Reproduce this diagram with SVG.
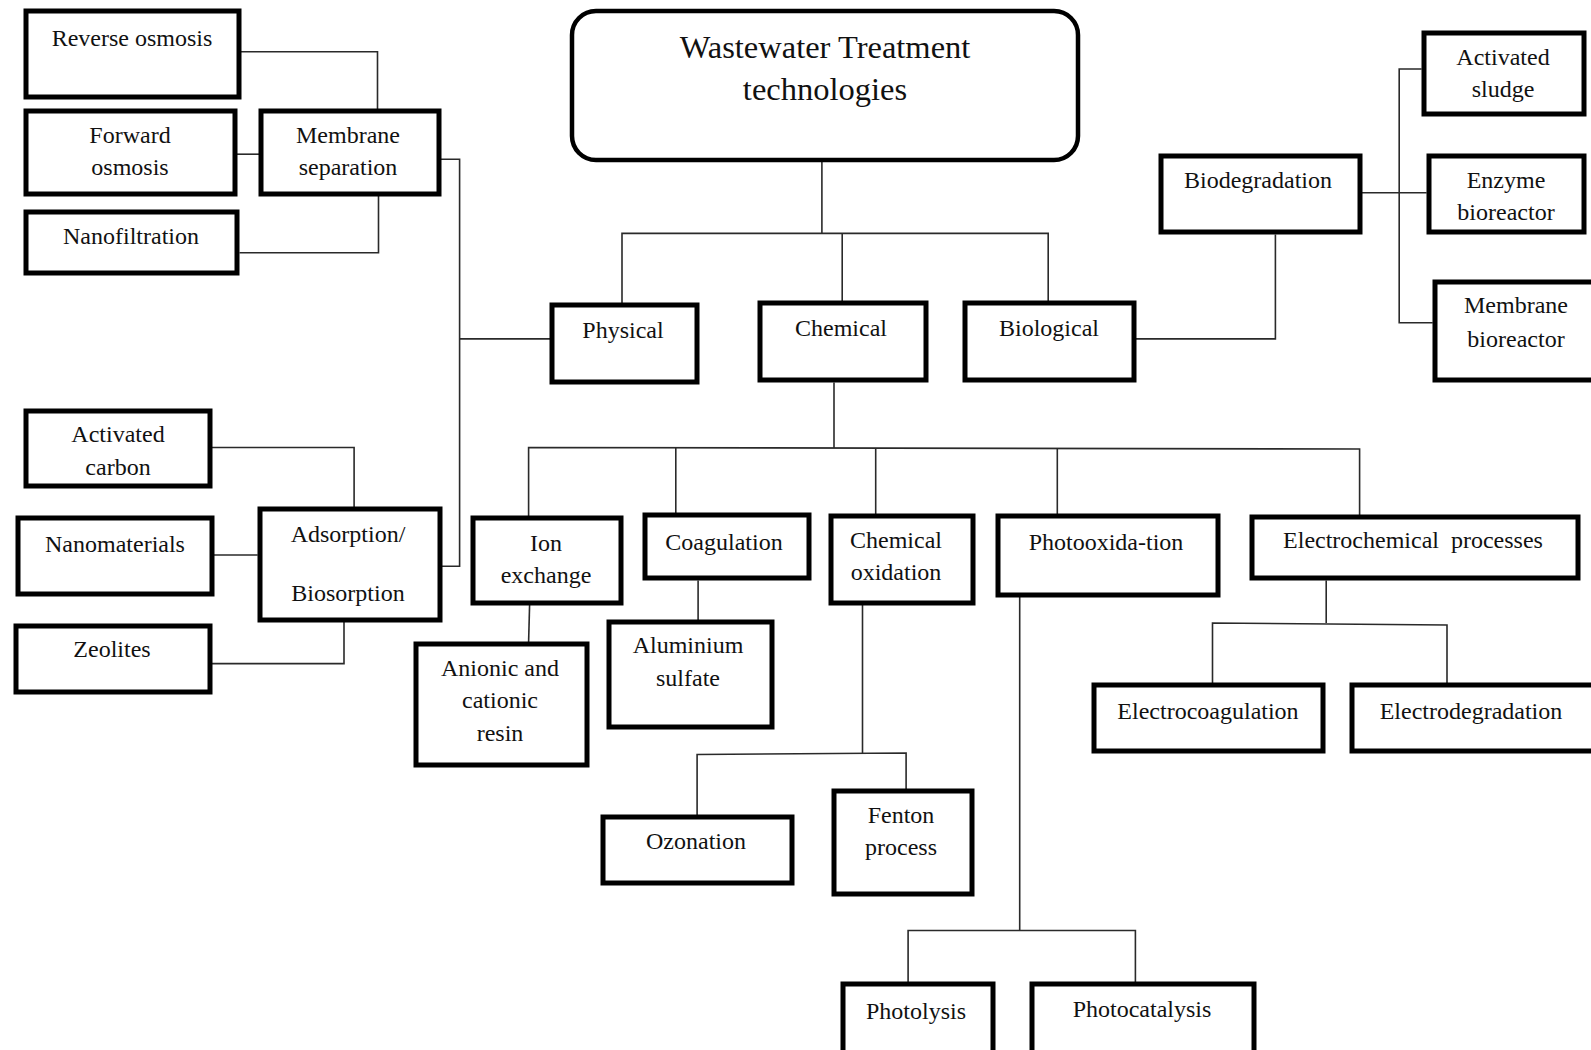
<svg xmlns="http://www.w3.org/2000/svg" width="1591" height="1050" viewBox="0 0 1591 1050">
  <style>
    .box { fill: #ffffff; stroke: #000000; stroke-width: 5; }
    .title { fill: #ffffff; stroke: #000000; stroke-width: 4.5; }
    .lbl { font-family: "Liberation Serif", "Times New Roman", serif; font-size: 24px; fill: #111111; text-anchor: middle; }
    .ttl { font-family: "Liberation Serif", "Times New Roman", serif; font-size: 32.5px; fill: #111111; text-anchor: middle; }
    .wire { fill: none; stroke: #2a2a2a; stroke-width: 1.6; }
  </style>
  <rect width="1591" height="1050" fill="#ffffff"/>

  <!-- connectors -->
  <g id="connectors" class="wire">
    <!-- membrane separation branch -->
    <polyline points="241,51.7 377.5,51.7 377.5,109"/>
    <polyline points="237,154.2 259,154.2"/>
    <polyline points="239.5,252.7 378.5,252.7 378.5,196"/>
    <polyline points="441,159.3 459.6,159.3 459.6,566.2 442,566.2"/>
    <polyline points="459.6,338.9 550,338.9"/>
    <!-- adsorption branch -->
    <polyline points="212,447.5 354.1,447.5 354.1,507.3"/>
    <polyline points="214,555 257.7,555"/>
    <polyline points="212,663.6 344,663.6 344,622"/>
    <!-- root to the three classes -->
    <polyline points="821.9,161 821.9,233.4"/>
    <polyline points="622,303 622,233.4 1048.2,233.4 1048.2,301"/>
    <polyline points="842.2,233.4 842.2,301"/>
    <!-- biological branch -->
    <polyline points="1136,338.9 1275.4,338.9 1275.4,234.4"/>
    <polyline points="1361.7,192.8 1426.6,192.8"/>
    <polyline points="1421.6,69 1399.2,69 1399.2,322.7 1432.7,322.7"/>
    <!-- chemical branch -->
    <polyline points="834,382.5 834,448"/>
    <polyline points="528.6,516 528.6,447.5 1359.6,449 1359.6,515"/>
    <polyline points="675.8,448 675.8,513"/>
    <polyline points="875.7,448.5 875.7,514"/>
    <polyline points="1057.3,448.8 1057.3,514"/>
    <polyline points="529.6,604.7 528.6,642"/>
    <polyline points="698.1,580.4 698.1,620"/>
    <polyline points="862.5,604.7 862.5,754"/>
    <polyline points="697.1,815 697.1,754.5 906.1,753 906.1,789"/>
    <polyline points="1019.7,596.6 1019.7,930.5"/>
    <polyline points="908.1,982 908.1,930.5 1135.4,930.5 1135.4,982"/>
    <polyline points="1326.2,580.4 1326.2,623"/>
    <polyline points="1212.5,683 1212.5,623 1447,625 1447,683"/>
  </g>

  <!-- root -->
  <g id="root">
    <rect class="title" x="572" y="11" width="506" height="149" rx="24" ry="24"/>
    <text class="ttl" x="825" y="58">Wastewater Treatment</text>
    <text class="ttl" x="825" y="100">technologies</text>
  </g>

  <!-- top level classes -->
  <g id="physical">
    <rect class="box" x="552" y="305" width="145" height="77"/>
    <text class="lbl" x="623" y="338">Physical</text>
  </g>
  <g id="chemical">
    <rect class="box" x="760" y="303" width="166" height="77"/>
    <text class="lbl" x="841" y="336">Chemical</text>
  </g>
  <g id="biological">
    <rect class="box" x="965" y="303" width="169" height="77"/>
    <text class="lbl" x="1049" y="336">Biological</text>
  </g>

  <!-- physical: membrane separation -->
  <g id="membrane-separation">
    <rect class="box" x="261" y="111" width="178" height="83"/>
    <text class="lbl" x="348" y="143">Membrane</text>
    <text class="lbl" x="348" y="175">separation</text>
  </g>
  <g id="reverse-osmosis">
    <rect class="box" x="26" y="11" width="213" height="86"/>
    <text class="lbl" x="132" y="46">Reverse osmosis</text>
  </g>
  <g id="forward-osmosis">
    <rect class="box" x="26" y="111" width="209" height="83"/>
    <text class="lbl" x="130" y="143">Forward</text>
    <text class="lbl" x="130" y="175">osmosis</text>
  </g>
  <g id="nanofiltration">
    <rect class="box" x="26" y="212" width="211" height="61"/>
    <text class="lbl" x="131" y="244">Nanofiltration</text>
  </g>

  <!-- physical: adsorption -->
  <g id="adsorption">
    <rect class="box" x="260" y="509" width="180" height="111"/>
    <text class="lbl" x="348" y="542">Adsorption/</text>
    <text class="lbl" x="348" y="601">Biosorption</text>
  </g>
  <g id="activated-carbon">
    <rect class="box" x="26" y="411" width="184" height="75"/>
    <text class="lbl" x="118" y="442">Activated</text>
    <text class="lbl" x="118" y="475">carbon</text>
  </g>
  <g id="nanomaterials">
    <rect class="box" x="18" y="518" width="194" height="76"/>
    <text class="lbl" x="115" y="552">Nanomaterials</text>
  </g>
  <g id="zeolites">
    <rect class="box" x="16" y="626" width="194" height="66"/>
    <text class="lbl" x="112" y="657">Zeolites</text>
  </g>

  <!-- biological: biodegradation -->
  <g id="biodegradation">
    <rect class="box" x="1161" y="156" width="199" height="76"/>
    <text class="lbl" x="1258" y="188">Biodegradation</text>
  </g>
  <g id="activated-sludge">
    <rect class="box" x="1424" y="33" width="160" height="81"/>
    <text class="lbl" x="1503" y="65">Activated</text>
    <text class="lbl" x="1503" y="97">sludge</text>
  </g>
  <g id="enzyme-bioreactor">
    <rect class="box" x="1429" y="156" width="155" height="76"/>
    <text class="lbl" x="1506" y="188">Enzyme</text>
    <text class="lbl" x="1506" y="220">bioreactor</text>
  </g>
  <g id="membrane-bioreactor">
    <rect class="box" x="1435" y="282" width="180" height="98"/>
    <text class="lbl" x="1516" y="313">Membrane</text>
    <text class="lbl" x="1516" y="347">bioreactor</text>
  </g>

  <!-- chemical processes -->
  <g id="ion-exchange">
    <rect class="box" x="473" y="518" width="148" height="85"/>
    <text class="lbl" x="546" y="551">Ion</text>
    <text class="lbl" x="546" y="583">exchange</text>
  </g>
  <g id="coagulation">
    <rect class="box" x="645" y="515" width="164" height="63"/>
    <text class="lbl" x="724" y="550">Coagulation</text>
  </g>
  <g id="chemical-oxidation">
    <rect class="box" x="831" y="516" width="142" height="87"/>
    <text class="lbl" x="896" y="548">Chemical</text>
    <text class="lbl" x="896" y="580">oxidation</text>
  </g>
  <g id="photooxidation">
    <rect class="box" x="998" y="516" width="220" height="79"/>
    <text class="lbl" x="1106" y="550">Photooxida-tion</text>
  </g>
  <g id="electrochemical">
    <rect class="box" x="1252" y="517" width="326" height="61"/>
    <text class="lbl" x="1413" y="548" xml:space="preserve">Electrochemical  processes</text>
  </g>

  <g id="ion-resin">
    <rect class="box" x="416" y="644" width="171" height="121"/>
    <text class="lbl" x="500" y="676">Anionic and</text>
    <text class="lbl" x="500" y="708">cationic</text>
    <text class="lbl" x="500" y="741">resin</text>
  </g>
  <g id="aluminium-sulfate">
    <rect class="box" x="609" y="622" width="163" height="105"/>
    <text class="lbl" x="688" y="653">Aluminium</text>
    <text class="lbl" x="688" y="686">sulfate</text>
  </g>
  <g id="ozonation">
    <rect class="box" x="603" y="817" width="189" height="66"/>
    <text class="lbl" x="696" y="849">Ozonation</text>
  </g>
  <g id="fenton">
    <rect class="box" x="834" y="791" width="138" height="103"/>
    <text class="lbl" x="901" y="823">Fenton</text>
    <text class="lbl" x="901" y="855">process</text>
  </g>
  <g id="photolysis">
    <rect class="box" x="843" y="984" width="150" height="80"/>
    <text class="lbl" x="916" y="1019">Photolysis</text>
  </g>
  <g id="photocatalysis">
    <rect class="box" x="1032" y="984" width="222" height="80"/>
    <text class="lbl" x="1142" y="1017">Photocatalysis</text>
  </g>
  <g id="electrocoagulation">
    <rect class="box" x="1094" y="685" width="229" height="66"/>
    <text class="lbl" x="1208" y="719">Electrocoagulation</text>
  </g>
  <g id="electrodegradation">
    <rect class="box" x="1352" y="685" width="260" height="66"/>
    <text class="lbl" x="1471" y="719">Electrodegradation</text>
  </g>
</svg>
